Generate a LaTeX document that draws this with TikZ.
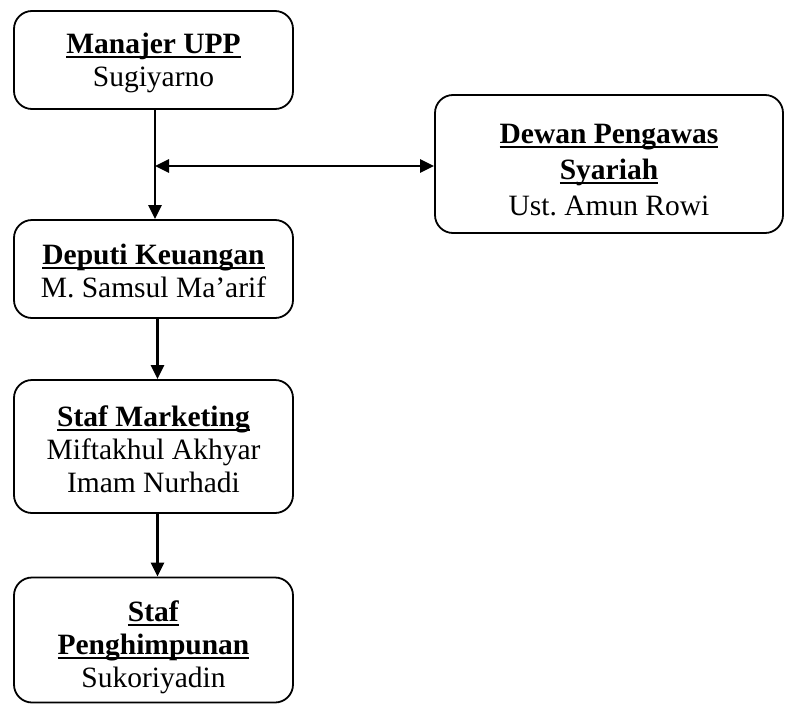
\documentclass[tikz,border=0pt]{standalone}
\usepackage{fontspec}
\setmainfont{Liberation Serif}
\usetikzlibrary{arrows.meta}
\newcommand{\ulb}[1]{{\setbox0\hbox{\textbf{#1}}\rlap{\rule[-4.5pt]{\wd0}{2pt}}\box0}}
\begin{document}
\begin{tikzpicture}[x=1pt,y=-1pt,
  box/.style={draw,line width=1.8pt,rounded corners=18pt,inner sep=0pt},
  txt/.style={align=center,inner sep=0pt,font=\fontsize{29.5}{33}\selectfont},
  conn/.style={line width=2.6pt,-{Triangle[length=14pt,width=13pt]}},
  dconn/.style={line width=2.6pt,{Triangle[length=14pt,width=13pt]}-{Triangle[length=14pt,width=13pt]}}]
\useasboundingbox (0,0) rectangle (786,704);
\node[box,minimum width=279pt,minimum height=98pt] (mgr) at (153.5,60) {};
\node[box,minimum width=279pt,minimum height=98pt] (dep) at (153.5,269) {};
\node[box,minimum width=279pt,minimum height=133pt] (mkt) at (153.5,446.5) {};
\node[box,minimum width=279pt,minimum height=125pt] (hmp) at (153.5,640) {};
\node[box,minimum width=348pt,minimum height=138pt] (dew) at (609,164) {};
\node[txt] (mgrt) at ([yshift=-3pt]mgr.center) {\ulb{Manajer UPP}\\Sugiyarno};
\node[txt] (dept) at ([yshift=-2pt]dep.center) {\ulb{Deputi Keuangan}\\M. Samsul Ma’arif};
\node[txt] (mktt) at ([yshift=-3pt]mkt.center) {\ulb{Staf Marketing}\\Miftakhul Akhyar\\Imam Nurhadi};
\node[txt] (hmpt) at ([yshift=-7pt]hmp.center) {\ulb{Staf}\\\ulb{Penghimpunan}\\Sukoriyadin};
\node[txt,font=\fontsize{29.5}{36}\selectfont] (dewt) at ([yshift=-6pt]dew.center) {\ulb{Dewan Pengawas}\\\ulb{Syariah}\\Ust.\ Amun Rowi};
\coordinate (j) at (155,166);
\draw[conn] (mgr.south -| j) -- (dep.north -| j);
\draw[dconn] (j) -- (j -| dew.west);
\draw[conn] ([xshift=4pt]dep.south) -- ([xshift=4pt]mkt.north);
\draw[conn] ([xshift=4pt]mkt.south) -- ([xshift=4pt]hmp.north);
\end{tikzpicture}
\end{document}
